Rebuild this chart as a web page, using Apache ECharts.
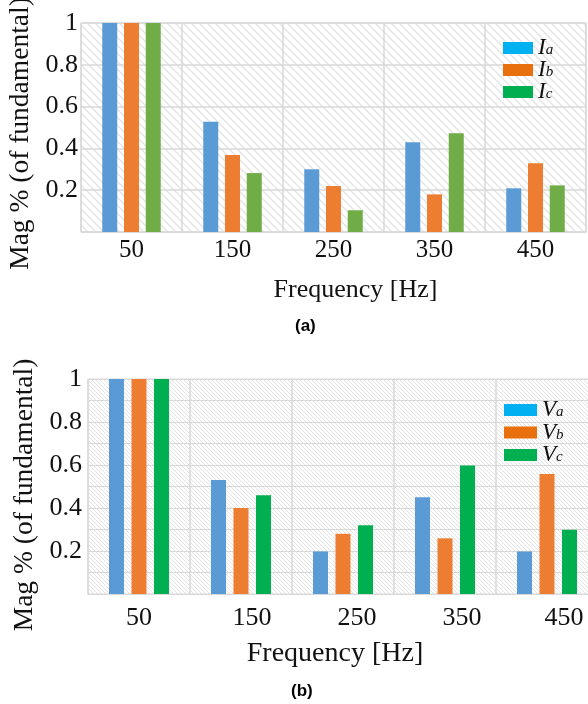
<!DOCTYPE html>
<html><head><meta charset="utf-8">
<script src="https://cdn.jsdelivr.net/npm/echarts@6/dist/echarts.min.js"></script>
<style>html,body{margin:0;padding:0;background:#fff}#c{width:588px;height:704px}</style>
</head><body><div id="c"></div>
<script>
const categories = ['50', '150', '250', '350', '450'];
const Ia = [1, 0.528, 0.30, 0.429, 0.209];
const Ib = [1, 0.368, 0.22, 0.18, 0.329];
const Ic = [1, 0.282, 0.104, 0.472, 0.223];
const Va = [1, 0.53, 0.198, 0.45, 0.198];
const Vb = [1, 0.40, 0.28, 0.259, 0.558];
const Vc = [1, 0.459, 0.32, 0.598, 0.299];
const namesA = ['Ia', 'Ib', 'Ic'];
const namesB = ['Va', 'Vb', 'Vc'];

function hatch(step, color, w) {
  const c = document.createElement('canvas');
  c.width = step; c.height = step;
  const g = c.getContext('2d');
  g.fillStyle = '#fff'; g.fillRect(0, 0, step, step);
  g.strokeStyle = color; g.lineWidth = w;
  g.beginPath();
  g.moveTo(-1, -1); g.lineTo(step + 1, step + 1);
  g.moveTo(-1, step - 1); g.lineTo(1, step + 1);
  g.moveTo(step - 1, -1); g.lineTo(step + 1, 1);
  g.stroke();
  return {image: c, repeat: 'repeat'};
}

const serif = 'Liberation Serif';
const barColors = ['#5B9BD5', '#ED7D31', '#70AD47'];
const barColorsB = ['#5B9BD5', '#ED7D31', '#00B050'];
const legendColors = ['#00B0F0', '#E8700F', '#00B050'];

const rich = {
  i: {fontFamily: serif, fontStyle: 'italic', fontSize: 23, color: '#111', verticalAlign: 'middle', lineHeight: 20},
  s: {fontFamily: serif, fontStyle: 'italic', fontSize: 15, color: '#111', verticalAlign: 'bottom', lineHeight: 14, padding: [12, 0, 0, 0]}
};
function legendFmt(n) { return '{i|' + n[0] + '}{s|' + n[1] + '}'; }

const chart = echarts.init(document.getElementById('c'));
const labelShiftB = [0, 22, 28, 34, 34];
const xDataB = categories.map((c, i) => ({value: c, textStyle: {padding: [0, 0, i === 4 ? 12 : 0, labelShiftB[i]]}}));

chart.setOption({
  animation: false,
  title: [
    {text: '(a)', left: 295, top: 318, textStyle: {fontFamily: 'Liberation Sans', fontWeight: 'bold', fontSize: 17, color: '#000'}, padding: 0},
    {text: '(b)', left: 291, top: 683, textStyle: {fontFamily: 'Liberation Sans', fontWeight: 'bold', fontSize: 17, color: '#000'}, padding: 0}
  ],
  legend: [
    {orient: 'vertical', left: 503, top: 31, itemWidth: 30, itemHeight: 12, itemGap: -6.5, itemTextGap: 15, padding: 0,
     icon: 'rect', formatter: legendFmt, textStyle: {rich: rich}, itemStyle: {borderWidth: 0},
     data: namesA.map((n, i) => ({name: n, itemStyle: {color: legendColors[i]}}))},
    {orient: 'vertical', left: 504, top: 393, itemWidth: 33, itemHeight: 12, itemGap: -6, itemTextGap: 16, padding: 0,
     icon: 'rect', formatter: legendFmt, textStyle: {rich: rich}, itemStyle: {borderWidth: 0},
     data: namesB.map((n, i) => ({name: n, itemStyle: {color: legendColors[i]}}))}
  ],
  grid: [
    {left: 81, top: 23, width: 505, height: 209, outerBoundsMode: 'none', containLabel: false, show: true, borderColor: '#D9D9D9', borderWidth: 1, backgroundColor: hatch(8, '#E4E4E4', 1.4)},
    {left: 88, top: 379, width: 510, height: 215, outerBoundsMode: 'none', containLabel: false, show: true, borderColor: '#D9D9D9', borderWidth: 1, backgroundColor: hatch(4, '#E2E2E2', 1)}
  ],
  xAxis: [
    {type: 'category', gridIndex: 0, data: categories,
     axisLine: {lineStyle: {color: '#D9D9D9'}}, axisTick: {show: false},
     splitLine: {show: true, lineStyle: {color: '#D9D9D9', width: 1.5}},
     axisLabel: {fontFamily: serif, fontSize: 25, color: '#111', margin: 6},
     name: 'Frequency [Hz]', nameLocation: 'middle', nameGap: 45,
     nameTextStyle: {fontFamily: serif, fontSize: 26, color: '#111', padding: [0, 0, 0, 44]}},
    {type: 'category', gridIndex: 1, data: xDataB,
     axisLine: {lineStyle: {color: '#D9D9D9'}}, axisTick: {show: false},
     splitLine: {show: true, lineStyle: {color: '#D9D9D9', width: 1.5}},
     axisLabel: {fontFamily: serif, fontSize: 26, color: '#111', margin: 11},
     name: 'Frequency [Hz]', nameLocation: 'middle', nameGap: 46,
     nameTextStyle: {fontFamily: serif, fontSize: 28, color: '#111', padding: [0, 16, 0, 0]}}
  ],
  yAxis: [
    {type: 'value', gridIndex: 0, min: 0, max: 1, interval: 0.2,
     axisLine: {show: false}, axisTick: {show: false},
     splitLine: {lineStyle: {color: '#D9D9D9', width: 1.5}},
     axisLabel: {fontFamily: serif, fontSize: 26, color: '#111', margin: 3, padding: [0, 0, 20, 0],
       formatter: v => v === 0 ? '' : String(Math.round(v * 10) / 10)},
     name: 'Mag % (of fundamental)', nameLocation: 'middle', nameRotate: 90, nameGap: 45,
     nameTextStyle: {fontFamily: serif, fontSize: 27.5, color: '#111', padding: [0, 12, 0, 0]}},
    {type: 'value', gridIndex: 1, min: 0, max: 1, interval: 0.1,
     axisLine: {show: false}, axisTick: {show: false},
     splitLine: {lineStyle: {color: '#D9D9D9', width: 1.2}},
     axisLabel: {fontFamily: serif, fontSize: 26, color: '#111', margin: 6,
       formatter: v => { const k = Math.round(v * 10); return (k > 0 && k % 2 === 0) ? String(k / 10) : ''; }},
     name: 'Mag % (of fundamental)', nameLocation: 'middle', nameRotate: 90, nameGap: 48,
     nameTextStyle: {fontFamily: serif, fontSize: 27.5, color: '#111', padding: [0, 17, 0, 0]}}
  ],
  series: [
    {name: 'Ia', type: 'bar', xAxisIndex: 0, yAxisIndex: 0, data: Ia, barWidth: 15, barGap: '45%', itemStyle: {color: barColors[0]}},
    {name: 'Ib', type: 'bar', xAxisIndex: 0, yAxisIndex: 0, data: Ib, barWidth: 15, barGap: '45%', itemStyle: {color: barColors[1]}},
    {name: 'Ic', type: 'bar', xAxisIndex: 0, yAxisIndex: 0, data: Ic, barWidth: 15, barGap: '45%', itemStyle: {color: barColors[2]}},
    {name: 'Va', type: 'bar', xAxisIndex: 1, yAxisIndex: 1, data: Va, barWidth: 15, barGap: '50%', itemStyle: {color: barColorsB[0]}},
    {name: 'Vb', type: 'bar', xAxisIndex: 1, yAxisIndex: 1, data: Vb, barWidth: 15, barGap: '50%', itemStyle: {color: barColorsB[1]}},
    {name: 'Vc', type: 'bar', xAxisIndex: 1, yAxisIndex: 1, data: Vc, barWidth: 15, barGap: '50%', itemStyle: {color: barColorsB[2]}}
  ]
});
</script></body></html>
